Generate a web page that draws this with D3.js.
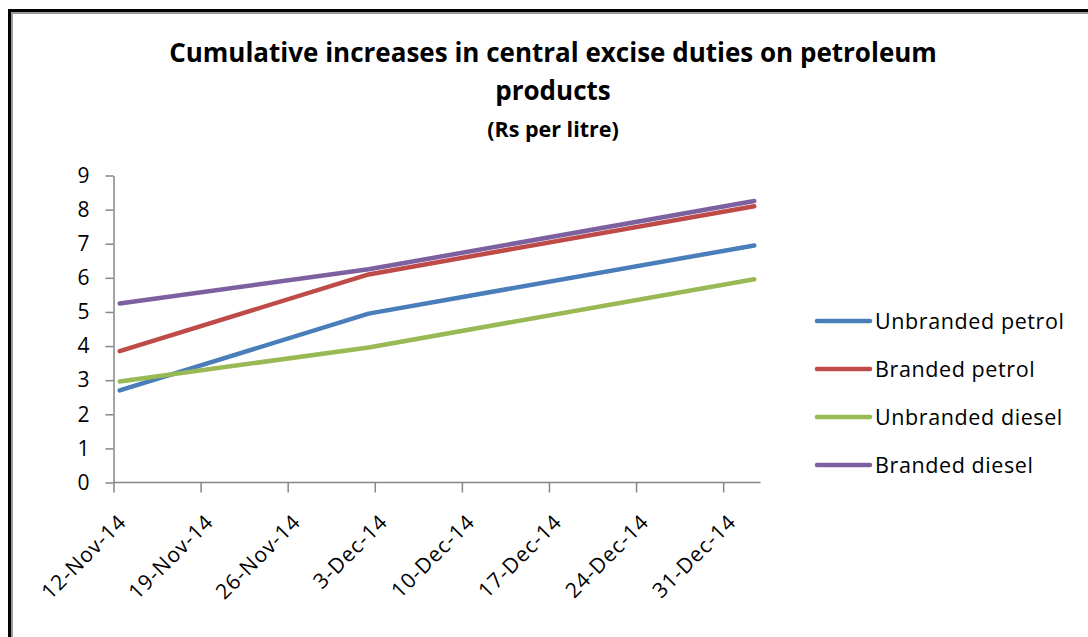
<!DOCTYPE html>
<html>
<head>
<meta charset="utf-8">
<script src="https://cdn.jsdelivr.net/npm/d3@7"></script>
<style>
  html, body { margin: 0; padding: 0; background: #fff; }
  svg { display: block; font-family: "Open Sans", Lato, sans-serif; }
</style>
</head>
<body>
<svg id="chart" width="1088" height="637"></svg>
<script>
// Dates of each duty revision and cumulative increase (Rs per litre)
const revisionDates = ["12-Nov-14", "2-Dec-14", "2-Jan-15"];
const unbrandedPetrol = [2.70, 4.95, 6.95];
const brandedPetrol   = [3.85, 6.10, 8.10];
const unbrandedDiesel = [2.96, 3.96, 5.96];
const brandedDiesel   = [5.25, 6.25, 8.25];

const seriesNames = ["Unbranded petrol", "Branded petrol", "Unbranded diesel", "Branded diesel"];
const seriesColors = ["#4A7EBB", "#BE4B48", "#98B954", "#7D60A0"];

const xTickLabels = ["12-Nov-14", "19-Nov-14", "26-Nov-14", "3-Dec-14",
                     "10-Dec-14", "17-Dec-14", "24-Dec-14", "31-Dec-14"];
const yTicks = [0, 1, 2, 3, 4, 5, 6, 7, 8, 9];
const axisStart = "12-Nov-14";
const axisEnd = "3-Jan-15";

const titleLines = ["Cumulative increases in central excise duties on petroleum", "products"];
const subtitle = "(Rs per litre)";

const parse = d3.utcParse("%d-%b-%y");
const fmt = d3.utcFormat("%-d-%b-%y");

const svg = d3.select("#chart");

// Frame: dark outer edge with a grey inner edge (top and left)
const frame = svg.append("g");
frame.append("rect").attr("x", 8).attr("y", 9).attr("width", 1080).attr("height", 3).attr("fill", "#000");
frame.append("rect").attr("x", 8).attr("y", 9).attr("width", 3).attr("height", 628).attr("fill", "#000");
frame.append("rect").attr("x", 11).attr("y", 12).attr("width", 1077).attr("height", 2).attr("fill", "#9a9a9a");
frame.append("rect").attr("x", 11).attr("y", 12).attr("width", 2).attr("height", 625).attr("fill", "#9a9a9a");

// Titles
svg.append("text")
  .attr("x", 553).attr("y", 62)
  .attr("text-anchor", "middle")
  .attr("font-size", 26).attr("font-weight", "bold").attr("fill", "#000")
  .text(titleLines[0]);
svg.append("text")
  .attr("x", 553).attr("y", 100)
  .attr("text-anchor", "middle")
  .attr("font-size", 26).attr("font-weight", "bold").attr("fill", "#000")
  .text(titleLines[1]);
svg.append("text")
  .attr("x", 553).attr("y", 137)
  .attr("text-anchor", "middle")
  .attr("font-size", 21.5).attr("font-weight", "bold").attr("fill", "#000")
  .text(subtitle);

// Scales: date axis with one day per slot, points centred in their day
const x = d3.scaleUtc()
  .domain([parse(axisStart), parse(axisEnd)])
  .range([113.5, 760.5]);
const y = d3.scaleLinear().domain([0, 9]).range([482.5, 175.5]);

const dayCentre = s => d3.utcHour.offset(parse(s), 12);

// Y axis
const yAxis = svg.append("g")
  .attr("transform", "translate(113.5,0)")
  .call(d3.axisLeft(y).tickValues(yTicks).tickSize(8).tickSizeOuter(0).tickPadding(16).tickFormat(d3.format("d")));
yAxis.select(".domain").attr("stroke", "#868686").attr("stroke-width", 1.5);
yAxis.selectAll(".tick line").attr("stroke", "#868686").attr("stroke-width", 1.5);
yAxis.selectAll(".tick text")
  .attr("font-family", "'Open Sans', sans-serif").attr("font-size", 21).attr("fill", "#000");

// X axis
const xAxis = svg.append("g")
  .attr("transform", "translate(0,482.5)")
  .call(d3.axisBottom(x).tickValues(xTickLabels.map(parse)).tickSize(10).tickSizeOuter(0).tickFormat(fmt));
xAxis.select(".domain").attr("stroke", "#868686").attr("stroke-width", 1.5)
  .attr("d", `M${x.range()[0]},0H${x.range()[1]}`);
xAxis.selectAll(".tick line").attr("stroke", "#868686").attr("stroke-width", 1.5);
xAxis.selectAll(".tick text")
  .attr("font-family", "'Open Sans', sans-serif").attr("font-size", 21).attr("fill", "#000")
  .attr("letter-spacing", 1)
  .attr("text-anchor", "end")
  .attr("x", 0).attr("y", 0).attr("dy", "0.72em")
  .attr("transform", "translate(3,30) rotate(-45)");

// Series lines
const series = [unbrandedPetrol, brandedPetrol, unbrandedDiesel, brandedDiesel];
const line = d3.line()
  .x((d, i) => x(dayCentre(revisionDates[i])))
  .y(d => y(d));

svg.append("g").selectAll("path")
  .data(series)
  .join("path")
  .attr("d", line)
  .attr("fill", "none")
  .attr("stroke", (d, i) => seriesColors[i])
  .attr("stroke-width", 4.5)
  .attr("stroke-linejoin", "round")
  .attr("stroke-linecap", "round");

// Legend
const legend = svg.append("g").attr("transform", "translate(817,321)");
const item = legend.selectAll("g")
  .data(seriesNames)
  .join("g")
  .attr("transform", (d, i) => `translate(0,${i * 48})`);
item.append("line")
  .attr("x1", 0).attr("x2", 53)
  .attr("stroke", (d, i) => seriesColors[i])
  .attr("stroke-width", 4.5)
  .attr("stroke-linecap", "round");
item.append("text")
  .attr("x", 58).attr("dy", "0.36em")
  .attr("font-size", 21.5).attr("letter-spacing", 0.6).attr("fill", "#000")
  .text(d => d);
</script>
</body>
</html>
